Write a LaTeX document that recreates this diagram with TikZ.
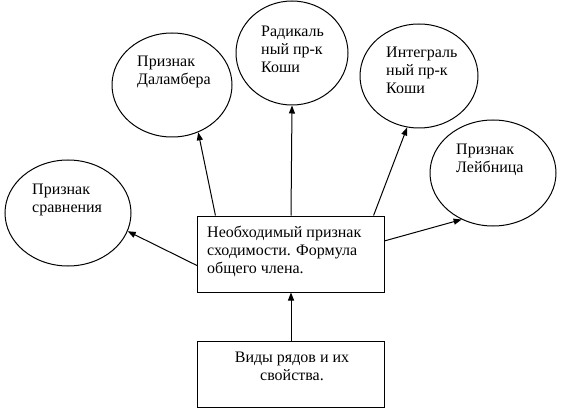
\documentclass[tikz,border=0pt]{standalone}
\usepackage{fontspec}
\setmainfont{Liberation Serif}
\newfontfamily\timesfont{Liberation Serif}
\usetikzlibrary{arrows.meta, shapes.geometric}
\tikzset{
  oval/.style={ellipse, draw=black, line width=1pt, inner sep=0pt},
  block/.style={rectangle, draw=black, line width=1pt, inner sep=0pt},
  txt/.style={anchor=north west, inner sep=0pt, align=left,
    font=\timesfont\fontsize{16}{18}\selectfont},
  arrow/.style={-{Triangle[length=8pt, width=6pt]}, line width=1pt, black},
}
\begin{document}
\begin{tikzpicture}[x=1pt, y=1pt]
\useasboundingbox (0,0) rectangle (564,418);
% ovals
\node[oval, minimum width=126, minimum height=106] (cmp) at (68,205) {};
\node[oval, minimum width=120, minimum height=104] (dal) at (172,333) {};
\node[oval, minimum width=112, minimum height=104] (rad) at (292,365) {};
\node[oval, minimum width=118, minimum height=104] (int) at (419,342) {};
\node[oval, minimum width=126, minimum height=106] (leib) at (493,245) {};
\node[txt] (cmpT) at (32,234) {Признак\\сравнения};
\node[txt] (dalT) at (137,362) {Признак\\Даламбера};
\node[txt] (radT) at (261,392) {Радикаль\\ный пр-к\\Коши};
\node[txt] (intT) at (386,371) {Интеграль\\ный пр-к\\Коши};
\node[txt] (leibT) at (456,274) {Признак\\Лейбница};
% boxes
\node[block, minimum width=187, minimum height=76] (need) at (291,164) {};
\node[txt] (needT) at (207,192) {Необходимый признак\\сходимости. Формула\\общего члена.};
\node[block, minimum width=187, minimum height=66] (kinds) at (291,44) {};
\node[txt, anchor=north, align=center] (kindsT) at (292,66) {Виды рядов и их\\свойства.};
% arrows
\draw[arrow] (kinds.north) -- (need.south);
\draw[arrow] (need.187) -- (cmp.-17);
\draw[arrow] (need.153) -- (dal.-61);
\draw[arrow] (need.north) -- (rad.south);
\draw[arrow] (need.25) -- (int.-103);
\draw[arrow] (need.8) -- (leib.-124);
\end{tikzpicture}
\end{document}
